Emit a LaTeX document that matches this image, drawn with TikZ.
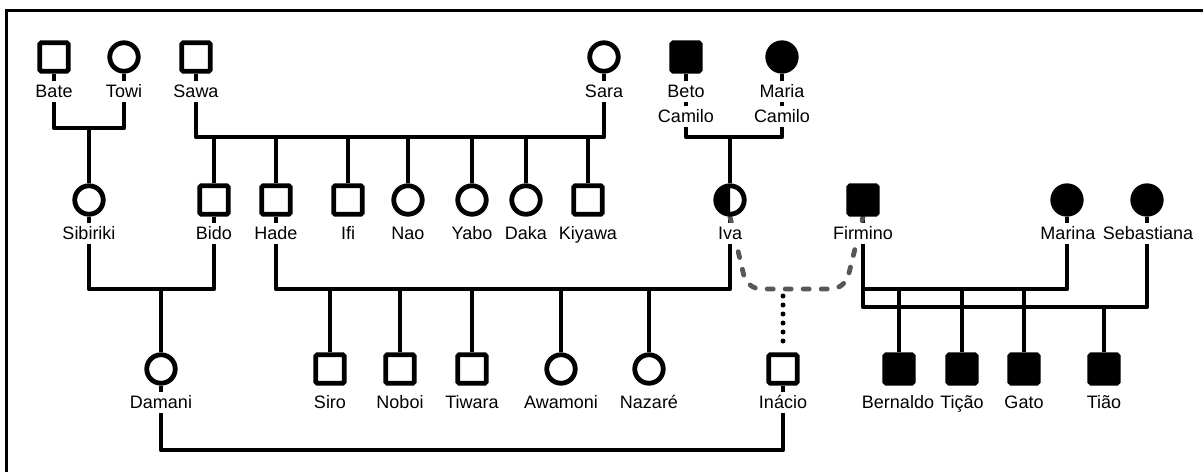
\documentclass[tikz,border=0pt]{standalone}
\usepackage{fontspec}
\setmainfont{Liberation Sans}
\pgfdeclarelayer{lines}
\pgfsetlayers{lines,main}
\begin{document}
\begin{tikzpicture}[x=1pt,y=-1pt,
  every node/.style={inner sep=0pt},
  male/.style={rectangle, draw, line width=4.8pt, minimum size=28.5pt, rounded corners=1.5pt, fill=white},
  female/.style={circle, draw, line width=4.8pt, minimum size=28.5pt, fill=white},
  affected/.style={fill=black},
  name label/.style={fill=white, font=\fontsize{18}{22}\selectfont, text height=15pt, text depth=3.5pt,
    inner xsep=1pt, inner ysep=1.5pt, anchor=base},
  link/.style={line width=4.6pt, line join=round},
  partner/.style={line width=4.8pt, draw=black!66, dash pattern=on 6pt off 12pt, line cap=round, rounded corners=14pt},
  descent/.style={line width=5pt, line cap=round, dash pattern=on 0pt off 9pt}
]
\useasboundingbox (0,0) rectangle (1203,472);
% frame
\draw[line width=2.2pt] (6.5,472) -- (6.5,10.5) -- (1203,10.5);

% generation I
\node[male]   (Bate) at (54,57) {};
\node[female] (Towi) at (124,57) {};
\node[male]   (Sawa) at (196,57) {};
\node[female] (Sara) at (604,57) {};
\node[male,affected]   (Beto)  at (686,57) {};
\node[female,affected] (Maria) at (782,57) {};

\node[name label] (lBate) at (54,97) {Bate};
\node[name label] (lTowi) at (124,97) {Towi};
\node[name label] (lSawa) at (196,97) {Sawa};
\node[name label] (lSara) at (604,97) {Sara};
\node[name label] (lBeto) at (686,97) {Beto};
\node[name label] (lBetoC) at (686,122) {Camilo};
\node[name label] (lMaria) at (782,97) {Maria};
\node[name label] (lMariaC) at (782,122) {Camilo};

% generation II
\node[female] (Sibiriki) at (89,200) {};
\node[male]   (Bido)     at (214,200) {};
\node[male]   (Hade)     at (276,200) {};
\node[male]   (Ifi)      at (348,200) {};
\node[female] (Nao)      at (408,200) {};
\node[female] (Yabo)     at (472,200) {};
\node[female] (Daka)     at (526,200) {};
\node[male]   (Kiyawa)   at (588,200) {};
\node[female] (Iva)      at (730,200) {};
\begin{scope}
  \clip ([xshift=-20pt]Iva.north) rectangle (Iva.south);
  \fill (Iva.center) circle[radius=14.5pt];
\end{scope}
\node[male,affected]   (Firmino)    at (863,200) {};
\node[female,affected] (Marina)     at (1067,200) {};
\node[female,affected] (Sebastiana) at (1147,200) {};

\node[name label] (lSibiriki) at (89,239) {Sibiriki};
\node[name label] (lBido)     at (214,239) {Bido};
\node[name label] (lHade)     at (276,239) {Hade};
\node[name label] (lIfi)      at (348,239) {Ifi};
\node[name label] (lNao)      at (408,239) {Nao};
\node[name label] (lYabo)     at (472,239) {Yabo};
\node[name label] (lDaka)     at (526,239) {Daka};
\node[name label] (lKiyawa)   at (588,239) {Kiyawa};
\node[name label] (lIva)      at (730,239) {Iva};
\node[name label] (lFirmino)  at (863,239) {Firmino};
\node[name label] (lMarina)   at (1068,239) {Marina};
\node[name label] (lSebastiana) at (1148,239) {Sebastiana};

% generation III
\node[female] (Damani)  at (161,369) {};
\node[male]   (Siro)    at (330,369) {};
\node[male]   (Noboi)   at (400,369) {};
\node[male]   (Tiwara)  at (472,369) {};
\node[female] (Awamoni) at (561,369) {};
\node[female] (Nazare)  at (649,369) {};
\node[male]   (Inacio)  at (783,369) {};
\node[male,affected] (Bernaldo) at (899,369) {};
\node[male,affected] (Ticao)    at (962,369) {};
\node[male,affected] (Gato)     at (1024,369) {};
\node[male,affected] (Tiao)     at (1104,369) {};

\node[name label] (lDamani)   at (161,408) {Damani};
\node[name label] (lSiro)     at (330,408) {Siro};
\node[name label] (lNoboi)    at (400,408) {Noboi};
\node[name label] (lTiwara)   at (472,408) {Tiwara};
\node[name label] (lAwamoni)  at (561,408) {Awamoni};
\node[name label] (lNazare)   at (649,408) {Nazaré};
\node[name label] (lInacio)   at (783,408) {Inácio};
\node[name label] (lBernaldo) at (898,408) {Bernaldo};
\node[name label] (lTicao)    at (962,408) {Tição};
\node[name label] (lGato)     at (1024,408) {Gato};
\node[name label] (lTiao)     at (1104,408) {Tião};

% unions and descent lines, behind symbols and names
\begin{pgfonlayer}{lines}
  \coordinate (c1) at (89,128);
  \draw[link] (Bate) |- (c1) -| (Towi);
  \draw[link] (c1) -- (Sibiriki);

  \coordinate (c2) at (400,137);
  \draw[link] (Sawa) |- (c2) -| (Sara);
  \foreach \k in {Bido,Hade,Ifi,Nao,Yabo,Daka,Kiyawa}
    \draw[link] (\k) -- (\k |- c2);

  \coordinate (c3) at (730,137);
  \draw[link] (Beto) |- (c3) -| (Maria);
  \draw[link] (c3) -- (Iva);

  \coordinate (c4) at (161,289);
  \draw[link] (Sibiriki) |- (c4) -| (Bido);
  \draw[link] (c4) -- (Damani);

  \coordinate (c5) at (500,289);
  \draw[link] (Hade) |- (c5) -| (Iva);
  \foreach \k in {Siro,Noboi,Tiwara,Awamoni,Nazare}
    \draw[link] (\k) -- (\k |- c5);

  \coordinate (c6) at (960,289);
  \coordinate (c7) at (1000,307);
  \draw[link] (Firmino) |- (c7) -| (Sebastiana);
  \draw[link] (Firmino) |- (c6) -| (Marina);
  \foreach \k in {Bernaldo,Ticao,Gato}
    \draw[link] (\k) -- (\k |- c6);
  \draw[link] (Tiao) -- (Tiao |- c7);

  \coordinate (c8) at (472,450);
  \draw[link] (Damani) |- (c8) -| (Inacio);

  % informal union of Iva and Firmino
  \coordinate (p1) at (747,289);
  \coordinate (p2) at (845,289);
  \coordinate (p3) at (783,289);
  \draw[partner] (Iva.south) -- (p1) -- (p2) -- (Firmino.south);
  \draw[descent] ([yshift=-7pt]p3) -- ([yshift=10pt]Inacio.north);
\end{pgfonlayer}
\end{tikzpicture}
\end{document}
